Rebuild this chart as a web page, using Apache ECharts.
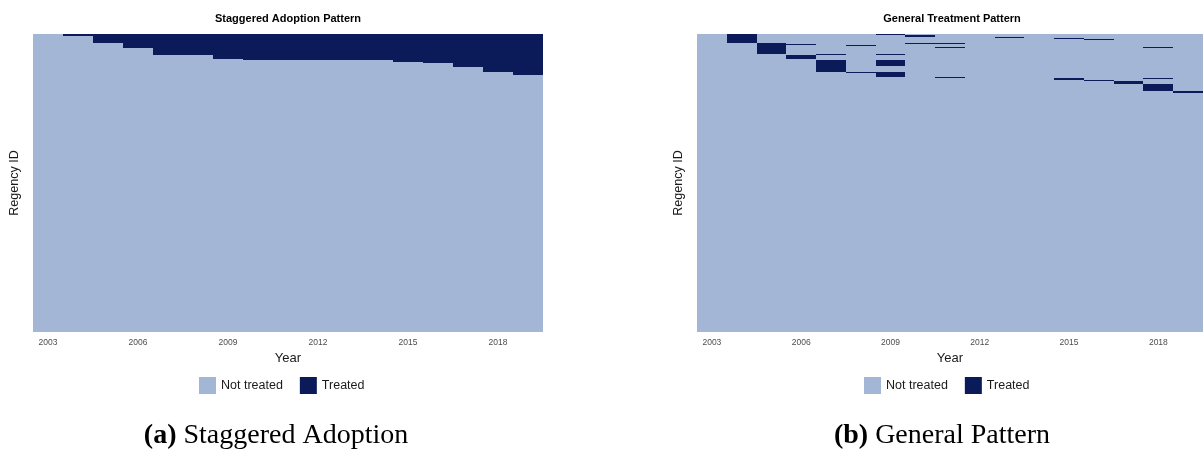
<!DOCTYPE html>
<html>
<head>
<meta charset="utf-8">
<script src="https://cdn.jsdelivr.net/npm/echarts@6/dist/echarts.min.js"></script>
<style>
  html, body { margin: 0; padding: 0; background: #fff; }
  #chart { width: 1203px; height: 450px; }
</style>
</head>
<body>
<div id="chart"></div>
<script>
// ---- data -------------------------------------------------------------
const years = [2003, 2004, 2005, 2006, 2007, 2008, 2009, 2010, 2011,
               2012, 2013, 2014, 2015, 2016, 2017, 2018, 2019];
const regencyCount = 298;

// Staggered design: regencies that first adopt in each year (once treated, always treated)
const adoptionCounts = [0, 2, 7, 5, 7, 0, 4, 1, 0, 0, 0, 0, 2, 1, 4, 5, 3];

// General design: treated regency rows [first, last] in each year
const generalTreatedRows = [
  [],
  [[0, 8]],
  [[9, 19]],
  [[10, 10], [21, 24]],
  [[20, 20], [26, 37]],
  [[11, 11], [38, 38]],
  [[0, 0], [20, 20], [26, 31], [38, 42]],
  [[1, 2], [9, 9]],
  [[9, 9], [13, 13], [43, 43]],
  [],
  [[3, 3]],
  [],
  [[4, 4], [44, 45]],
  [[5, 5], [46, 46]],
  [[47, 49]],
  [[13, 13], [44, 44], [50, 56]],
  [[57, 58]]
];

const statusLabels = ['Not treated', 'Treated'];

// ---- styles -----------------------------------------------------------
const statusColors = ['#a3b6d5', '#0b1a58'];
const sans = '"Liberation Sans", Arial, Helvetica, sans-serif';
const serif = '"Liberation Serif", "Times New Roman", serif';

// ---- build cell tables ------------------------------------------------
const regencyIds = Array.from({ length: regencyCount }, (_, i) => String(i + 1));

// adoption year index of each row (rows ordered by adoption year)
const adoptionIdx = [];
adoptionCounts.forEach((count, yi) => {
  for (let k = 0; k < count; k++) adoptionIdx.push(yi);
});

const staggeredCells = [];
const generalCells = [];
years.forEach((yr, xi) => {
  const spans = generalTreatedRows[xi];
  for (let r = 0; r < regencyCount; r++) {
    const adopted = r < adoptionIdx.length && adoptionIdx[r] <= xi;
    staggeredCells.push([xi, r, adopted ? 1 : 0]);
    const treated = spans.some(([a, b]) => r >= a && r <= b);
    generalCells.push([xi, r, treated ? 1 : 0]);
  }
});

// ---- chart ------------------------------------------------------------
const chart = echarts.init(document.getElementById('chart'), null, { renderer: 'canvas' });

const panelLefts = [33, 697];
const panelWidth = 510;

function xAxisFor(gi) {
  return {
    type: 'category', gridIndex: gi, data: years.map(String),
    axisLine: { show: false }, axisTick: { show: false }, splitLine: { show: false },
    axisLabel: { interval: 2, fontSize: 8.5, color: '#4d4d4d', margin: 6, fontFamily: sans },
    name: 'Year', nameLocation: 'middle', nameGap: 19,
    nameTextStyle: { fontSize: 13, color: '#1a1a1a', fontFamily: sans }
  };
}
function yAxisFor(gi) {
  return {
    type: 'category', gridIndex: gi, data: regencyIds, inverse: true,
    axisLine: { show: false }, axisTick: { show: false }, splitLine: { show: false },
    axisLabel: { show: false },
    name: 'Regency ID', nameLocation: 'middle', nameRotate: 90, nameGap: 12,
    nameTextStyle: { fontSize: 12.5, color: '#1a1a1a', fontFamily: sans }
  };
}

// Tile cell: edges snapped to whole pixels so neighbouring cells meet without seams
function renderCell(params, api) {
  const c = api.coord([api.value(0), api.value(1)]);
  const s = api.size([1, 1]);
  const x0 = Math.round(c[0] - s[0] / 2), x1 = Math.round(c[0] + s[0] / 2);
  const y0 = Math.round(c[1] - s[1] / 2), y1 = Math.round(c[1] + s[1] / 2);
  return {
    type: 'rect',
    shape: { x: x0, y: y0, width: x1 - x0, height: Math.max(1, y1 - y0) },
    style: { fill: api.visual('color') }
  };
}
function tiles(gi, cells) {
  return {
    type: 'custom', xAxisIndex: gi, yAxisIndex: gi, data: cells,
    renderItem: renderCell, encode: { x: 0, y: 1 },
    progressive: 0, silent: true
  };
}
function legendFor(si, left) {
  return {
    type: 'piecewise', seriesIndex: si, dimension: 2,
    pieces: statusLabels.map((label, v) => ({ value: v, label: label, color: statusColors[v] })),
    orient: 'horizontal', left: left, top: 362,
    itemWidth: 17, itemHeight: 17, itemGap: 17, textGap: 5,
    itemSymbol: 'rect', selectedMode: false, hoverLink: false,
    textStyle: { fontSize: 12.5, color: '#1a1a1a', fontFamily: sans }
  };
}

chart.setOption({
  animation: false,
  grid: panelLefts.map(l => ({
    left: l, top: 34, width: panelWidth, height: 298,
    show: true, backgroundColor: statusColors[0], borderWidth: 0
  })),
  xAxis: [xAxisFor(0), xAxisFor(1)],
  yAxis: [yAxisFor(0), yAxisFor(1)],
  visualMap: [legendFor(0, 184), legendFor(1, 849)],
  series: [tiles(0, staggeredCells), tiles(1, generalCells)],
  graphic: [
    { type: 'text', x: panelLefts[0] + panelWidth / 2, y: 19,
      style: { text: 'Staggered Adoption Pattern', align: 'center', verticalAlign: 'middle',
               fontSize: 11, fontWeight: 'bold', fontFamily: sans, fill: '#000' } },
    { type: 'text', x: panelLefts[1] + panelWidth / 2, y: 19,
      style: { text: 'General Treatment Pattern', align: 'center', verticalAlign: 'middle',
               fontSize: 11, fontWeight: 'bold', fontFamily: sans, fill: '#000' } },
    { type: 'text', x: 276, y: 436,
      style: { text: '{b|(a)} Staggered Adoption', align: 'center', verticalAlign: 'middle',
               fontSize: 28, fontFamily: serif, fill: '#000',
               rich: { b: { fontWeight: 'bold', fontSize: 28, fontFamily: serif } } } },
    { type: 'text', x: 942, y: 436,
      style: { text: '{b|(b)} General Pattern', align: 'center', verticalAlign: 'middle',
               fontSize: 28, fontFamily: serif, fill: '#000',
               rich: { b: { fontWeight: 'bold', fontSize: 28, fontFamily: serif } } } }
  ]
});
</script>
</body>
</html>
